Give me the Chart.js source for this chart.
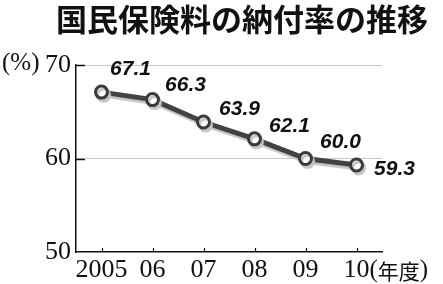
<!DOCTYPE html>
<html><head><meta charset="utf-8">
<script src="https://cdn.jsdelivr.net/npm/chart.js@4/dist/chart.umd.min.js"></script>
<style>html,body{margin:0;padding:0;background:#fff}#wrap{width:443px;height:284px;position:relative}</style>
</head><body><div id="wrap"><canvas id="c" width="443" height="284"></canvas></div>
<script>
const titleText = '国民保険料の納付率の推移';
const categories = ['2005', '06', '07', '08', '09', '10'];
const rates = [67.1, 66.3, 63.9, 62.1, 60.0, 59.3];
const yTicks = [50, 60, 70];
const unitY = '(%)';
const unitX = '年度';

const labelOffsets = [[29,-23],[33,-14],[36,-13],[35,-13],[35,-16],[38,4]];

const extras = {
  id: 'extras',
  beforeDatasetDraw(chart) {
    const ctx = chart.ctx;
    ctx.save();
    ctx.shadowColor = '#c4c4c4';
    ctx.shadowOffsetX = 2;
    ctx.shadowOffsetY = 3;
    ctx.shadowBlur = 1;
  },
  afterDatasetDraw(chart) {
    chart.ctx.restore();
  },
  beforeDatasetsDraw(chart) {
    const ctx = chart.ctx, y = chart.scales.y, x = chart.scales.x, a = chart.chartArea;
    ctx.save();
    ctx.strokeStyle = '#111';
    ctx.lineWidth = 1.5;
    yTicks.forEach(v => {
      if (v === yTicks[0]) return;
      const py = Math.round(y.getPixelForValue(v)) + 0.5;
      ctx.beginPath(); ctx.moveTo(a.left, py); ctx.lineTo(a.left + 9, py); ctx.stroke();
    });
    ctx.lineWidth = 1.2;
    categories.forEach((c, i) => {
      const px = Math.round(x.getPixelForValue(i)) + 0.5;
      ctx.beginPath(); ctx.moveTo(px, a.bottom); ctx.lineTo(px, a.bottom - 4); ctx.stroke();
    });
    ctx.restore();
  },
  afterDraw(chart) {
    const ctx = chart.ctx, meta = chart.getDatasetMeta(0), x = chart.scales.x, y = chart.scales.y;
    ctx.save();
    ctx.fillStyle = '#111';
    ctx.font = 'bold 31px "Noto Sans CJK JP"';
    ctx.textAlign = 'center'; ctx.textBaseline = 'middle';
    ctx.fillText(titleText, 242, 19);
    ctx.font = 'italic bold 21px "Liberation Sans"';
    meta.data.forEach((pt, i) => {
      const o = labelOffsets[i];
      ctx.fillText(rates[i].toFixed(1), pt.x + o[0], pt.y + o[1]);
    });
    ctx.font = '25px "Liberation Serif"';
    ctx.textAlign = 'left';
    ctx.fillText(unitY, 2, y.getPixelForValue(70) - 2);
    const ly = 270;
    let px = x.getPixelForValue(categories.length - 1) + 13;
    ctx.fillText('(', px, ly); px += ctx.measureText('(').width;
    ctx.font = '21px "Noto Sans CJK JP"';
    ctx.fillText(unitX, px, ly + 1); px += ctx.measureText(unitX).width;
    ctx.font = '25px "Liberation Serif"';
    ctx.fillText(')', px, ly);
    ctx.restore();
  }
};

new Chart(document.getElementById('c'), {
  type: 'line',
  data: {
    labels: categories,
    datasets: [{
      data: rates,
      borderColor: '#424242',
      borderWidth: 5,
      pointRadius: 6,
      pointBorderWidth: 3,
      pointBackgroundColor: '#fff',
      pointBorderColor: '#3a3a3a',
      tension: 0
    }]
  },
  options: {
    responsive: false,
    animation: false,
    devicePixelRatio: 1,
    layout: { padding: { top: 65, right: 61, left: 0, bottom: 0 } },
    plugins: { legend: { display: false }, tooltip: { enabled: false }, title: { display: false } },
    scales: {
      x: {
        type: 'category',
        offset: true,
        grid: { display: false, drawTicks: false },
        border: { display: true, color: '#111', width: 1.5 },
        ticks: { color: '#111', font: { family: 'Liberation Serif', size: 26 }, padding: 3, maxRotation: 0, autoSkip: false },
        afterFit(s) { s.height = 32; }
      },
      y: {
        min: 50, max: 70,
        afterBuildTicks(s) { s.ticks = yTicks.map(v => ({ value: v })); },
        grid: {
          drawTicks: false,
          color: ctx => (ctx.tick && ctx.tick.value === 50) ? 'rgba(0,0,0,0)' : '#c8c8c8',
          lineWidth: 1
        },
        border: { display: true, color: '#111', width: 1.5 },
        ticks: { color: '#111', font: { family: 'Liberation Serif', size: 26 }, padding: 5 },
        afterFit(s) { s.width = 76; }
      }
    }
  },
  plugins: [extras]
});
</script></body></html>
